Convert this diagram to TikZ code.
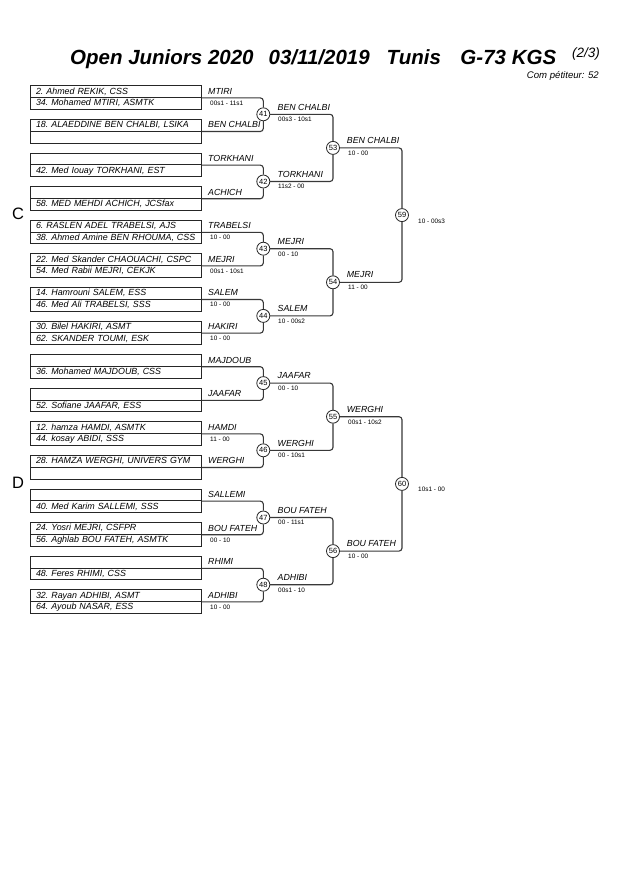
\documentclass[tikz,border=0pt]{standalone}
\usepackage{fontspec}
\setmainfont{Liberation Sans}
\usepackage{tikz}
\tikzstyle{entry}=[rectangle,draw=black!85,line width=0.8pt,text width=160pt,inner xsep=5.15pt,inner ysep=0pt,minimum height=11.8pt,align=left,text height=6.4pt,text depth=1.6pt,font=\fontsize{8.9}{10}\selectfont\itshape\frenchspacing]
\tikzstyle{bout}=[circle,draw=black!85,line width=0.8pt,fill=white,minimum size=13pt,inner sep=0pt,font=\fontsize{7.5}{8}\selectfont]
\tikzstyle{winner}=[anchor=base west,inner sep=0pt,font=\fontsize{8.8}{10}\selectfont\itshape]
\tikzstyle{score}=[anchor=base west,inner sep=0pt,font=\fontsize{6.4}{7}\selectfont]
\tikzstyle{bracket}=[draw=black!78,line width=1.1pt,rounded corners=3pt]

\begin{document}
\begin{tikzpicture}[x=1pt,y=-1pt]
\useasboundingbox[fill=white] (0,0) rectangle (630,891);

% title
\node[anchor=base west,inner sep=0pt,font=\fontsize{20.5}{24}\selectfont\bfseries\itshape] (title) at (70, 64)
  {Open Juniors 2020\hspace{15pt}03/11/2019\hspace{17pt}Tunis\hspace{19.5pt}G-73 KGS};
\node[anchor=base west,inner sep=0pt,font=\fontsize{13.5}{14}\selectfont\itshape] (page) at (572, 57) {(2/3)};
\node[anchor=base east,inner sep=0pt,font=\fontsize{9.6}{10}\selectfont\itshape] (count) at (599, 78) {Com pétiteur: 52};

\node[font=\fontsize{16.5}{18}\selectfont,inner sep=0pt] (C) at (18, 214) {C};
\node[font=\fontsize{16.5}{18}\selectfont,inner sep=0pt] (D) at (18, 483) {D};

% entries
\node[entry] (r1)  at (116, 91.6)  {2. Ahmed REKIK, CSS};
\node[entry] (r2)  at (116, 103.4) {34. Mohamed MTIRI, ASMTK};
\node[entry] (r3)  at (116, 125.2) {18. ALAEDDINE BEN CHALBI, LSIKA};
\node[entry] (r4)  at (116, 137.0) {};
\node[entry] (r5)  at (116, 158.8) {};
\node[entry] (r6)  at (116, 170.6) {42. Med Iouay TORKHANI, EST};
\node[entry] (r7)  at (116, 192.4) {};
\node[entry] (r8)  at (116, 204.2) {58. MED MEHDI ACHICH, JCSfax};
\node[entry] (r9)  at (116, 226.0) {6. RASLEN ADEL TRABELSI, AJS};
\node[entry] (r10) at (116, 237.8) {38. Ahmed Amine BEN RHOUMA, CSS};
\node[entry] (r11) at (116, 259.6) {22. Med Skander CHAOUACHI, CSPC};
\node[entry] (r12) at (116, 271.4) {54. Med Rabii MEJRI, CEKJK};
\node[entry] (r13) at (116, 293.2) {14. Hamrouni SALEM, ESS};
\node[entry] (r14) at (116, 305.0) {46. Med Ali TRABELSI, SSS};
\node[entry] (r15) at (116, 326.8) {30. Bilel HAKIRI, ASMT};
\node[entry] (r16) at (116, 338.6) {62. SKANDER TOUMI, ESK};
\node[entry] (r17) at (116, 360.4) {};
\node[entry] (r18) at (116, 372.2) {36. Mohamed MAJDOUB, CSS};
\node[entry] (r19) at (116, 394.0) {};
\node[entry] (r20) at (116, 405.8) {52. Sofiane JAAFAR, ESS};
\node[entry] (r21) at (116, 427.6) {12. hamza HAMDI, ASMTK};
\node[entry] (r22) at (116, 439.4) {44. kosay ABIDI, SSS};
\node[entry] (r23) at (116, 461.2) {28. HAMZA WERGHI, UNIVERS GYM};
\node[entry] (r24) at (116, 473.0) {};
\node[entry] (r25) at (116, 494.8) {};
\node[entry] (r26) at (116, 506.6) {40. Med Karim SALLEMI, SSS};
\node[entry] (r27) at (116, 528.4) {24. Yosri MEJRI, CSFPR};
\node[entry] (r28) at (116, 540.2) {56. Aghlab BOU FATEH, ASMTK};
\node[entry] (r29) at (116, 562.0) {};
\node[entry] (r30) at (116, 573.8) {48. Feres RHIMI, CSS};
\node[entry] (r31) at (116, 595.6) {32. Rayan ADHIBI, ASMT};
\node[entry] (r32) at (116, 607.4) {64. Ayoub NASAR, ESS};

% bouts
\node[bout] (41) at (263.3, 114.3) {41};
\node[bout] (42) at (263.3, 181.5) {42};
\node[bout] (43) at (263.3, 248.7) {43};
\node[bout] (44) at (263.3, 315.9) {44};
\node[bout] (45) at (263.3, 383.1) {45};
\node[bout] (46) at (263.3, 450.3) {46};
\node[bout] (47) at (263.3, 517.5) {47};
\node[bout] (48) at (263.3, 584.7) {48};
\node[bout] (53) at (333, 147.9) {53};
\node[bout] (54) at (333, 282.3) {54};
\node[bout] (55) at (333, 416.7) {55};
\node[bout] (56) at (333, 551.1) {56};
\node[bout] (59) at (402, 215.1) {59};
\node[bout] (60) at (402, 483.9) {60};

\draw[bracket] (r1.south east)  -| (41);
\draw[bracket] (r3.south east)  -| (41);
\draw[bracket] (r5.south east)  -| (42);
\draw[bracket] (r7.south east)  -| (42);
\draw[bracket] (r9.south east)  -| (43);
\draw[bracket] (r11.south east) -| (43);
\draw[bracket] (r13.south east) -| (44);
\draw[bracket] (r15.south east) -| (44);
\draw[bracket] (r17.south east) -| (45);
\draw[bracket] (r19.south east) -| (45);
\draw[bracket] (r21.south east) -| (46);
\draw[bracket] (r23.south east) -| (46);
\draw[bracket] (r25.south east) -| (47);
\draw[bracket] (r27.south east) -| (47);
\draw[bracket] (r29.south east) -| (48);
\draw[bracket] (r31.south east) -| (48);

\draw[bracket] (41) -| (53);
\draw[bracket] (42) -| (53);
\draw[bracket] (43) -| (54);
\draw[bracket] (44) -| (54);
\draw[bracket] (45) -| (55);
\draw[bracket] (46) -| (55);
\draw[bracket] (47) -| (56);
\draw[bracket] (48) -| (56);

\draw[bracket] (53) -| (59);
\draw[bracket] (54) -| (59);
\draw[bracket] (55) -| (60);
\draw[bracket] (56) -| (60);

% winners of the first round
\node[winner] (win1)  at (208, 94.2)  {MTIRI};
\node[winner] (win2)  at (208, 127.8) {BEN CHALBI};
\node[winner] (win3)  at (208, 161.4) {TORKHANI};
\node[winner] (win4)  at (208, 195.0) {ACHICH};
\node[winner] (win5)  at (208, 228.6) {TRABELSI};
\node[winner] (win6)  at (208, 262.2) {MEJRI};
\node[winner] (win7)  at (208, 295.8) {SALEM};
\node[winner] (win8)  at (208, 329.4) {HAKIRI};
\node[winner] (win9)  at (208, 363.0) {MAJDOUB};
\node[winner] (win10) at (208, 396.6) {JAAFAR};
\node[winner] (win11) at (208, 430.2) {HAMDI};
\node[winner] (win12) at (208, 463.8) {WERGHI};
\node[winner] (win13) at (208, 497.4) {SALLEMI};
\node[winner] (win14) at (208, 531.0) {BOU FATEH};
\node[winner] (win15) at (208, 564.6) {RHIMI};
\node[winner] (win16) at (208, 598.2) {ADHIBI};

\node[score] (sc1)  at (210, 105.2) {00s1 - 11s1};
\node[score] (sc5)  at (210, 239.6) {10 - 00};
\node[score] (sc6)  at (210, 273.2) {00s1 - 10s1};
\node[score] (sc7)  at (210, 306.8) {10 - 00};
\node[score] (sc8)  at (210, 340.4) {10 - 00};
\node[score] (sc11) at (210, 441.2) {11 - 00};
\node[score] (sc14) at (210, 542.0) {00 - 10};
\node[score] (sc16) at (210, 609.2) {10 - 00};

% winners of the bouts
\node[winner] (win41) at (277.5, 110.1) {BEN CHALBI};
\node[winner] (win42) at (277.5, 177.3) {TORKHANI};
\node[winner] (win43) at (277.5, 244.5) {MEJRI};
\node[winner] (win44) at (277.5, 311.7) {SALEM};
\node[winner] (win45) at (277.5, 378.9) {JAAFAR};
\node[winner] (win46) at (277.5, 446.1) {WERGHI};
\node[winner] (win47) at (277.5, 513.3) {BOU FATEH};
\node[winner] (win48) at (277.5, 580.5) {ADHIBI};

\node[score] (sc41) at (278, 121.7) {00s3 - 10s1};
\node[score] (sc42) at (278, 188.9) {11s2 - 00};
\node[score] (sc43) at (278, 256.1) {00 - 10};
\node[score] (sc44) at (278, 323.3) {10 - 00s2};
\node[score] (sc45) at (278, 390.5) {00 - 10};
\node[score] (sc46) at (278, 457.7) {00 - 10s1};
\node[score] (sc47) at (278, 524.9) {00 - 11s1};
\node[score] (sc48) at (278, 592.1) {00s1 - 10};

\node[winner] (win53) at (346.7, 143.4) {BEN CHALBI};
\node[winner] (win54) at (346.7, 277.8) {MEJRI};
\node[winner] (win55) at (346.7, 412.2) {WERGHI};
\node[winner] (win56) at (346.7, 546.6) {BOU FATEH};

\node[score] (sc53) at (348, 155.4) {10 - 00};
\node[score] (sc54) at (348, 289.8) {11 - 00};
\node[score] (sc55) at (348, 424.2) {00s1 - 10s2};
\node[score] (sc56) at (348, 558.6) {10 - 00};

\node[score] (sc59) at (418, 223.1) {10 - 00s3};
\node[score] (sc60) at (418, 491.9) {10s1 - 00};

\end{tikzpicture}
\end{document}
